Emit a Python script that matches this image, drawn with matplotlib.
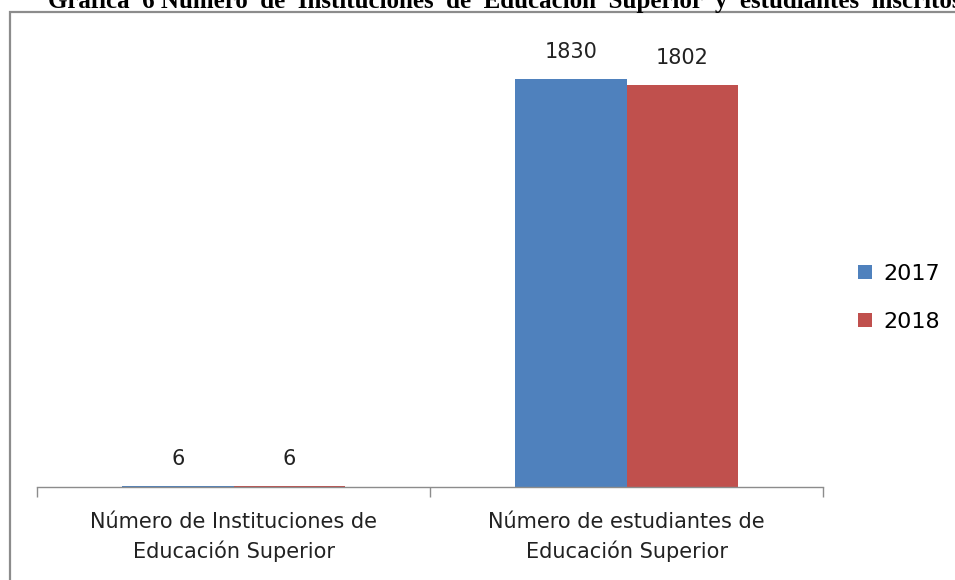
"""Bar chart: número de instituciones y estudiantes de educación superior, 2017 vs 2018."""
import matplotlib
matplotlib.use("Agg")
import matplotlib.pyplot as plt
from matplotlib.patches import Rectangle
import numpy as np

categories = ["Número de Instituciones de\nEducación Superior",
              "Número de estudiantes de\nEducación Superior"]
years = ["2017", "2018"]
values_2017 = [6, 1830]
values_2018 = [6, 1802]

colors = {"2017": "#4F81BD", "2018": "#C0504D"}
font = ["DejaVu Sans"]

fig = plt.figure(figsize=(9.55, 5.8), dpi=100)
W, H = 955, 580

# chart border (cut off at right and bottom like the source)
fig.patches.append(Rectangle((10 / W, -0.2), 1.2, (H - 12) / H + 0.2,
                             transform=fig.transFigure, fill=False,
                             edgecolor="#8c8c8c", linewidth=1.6))

# title, clipped at top edge as in the source
fig.text(48 / W, 1 - 8 / H, "Gráfica  6 Número  de  Instituciones  de  Educación  Superior  y  estudiantes  inscritos",
         fontsize=18, fontweight="bold", family="Liberation Serif",
         ha="left", va="baseline")

ax = fig.add_axes([37 / W, (H - 487) / H, (823 - 37) / W, (487 - 41) / H])
x = np.arange(len(categories))
bw = 0.283
b1 = ax.bar(x - bw / 2, values_2017, bw, color=colors["2017"], label="2017")
b2 = ax.bar(x + bw / 2, values_2018, bw, color=colors["2018"], label="2018")

for bars in (b1, b2):
    for r in bars:
        ax.annotate(f"{int(r.get_height())}", (r.get_x() + r.get_width() / 2, r.get_height()),
                    xytext=(0, 12), textcoords="offset points", ha="center", va="bottom",
                    fontsize=15, family=font, color="#222222")

ax.set_xlim(-0.5, 1.5)
ax.set_ylim(0, 2000)
ax.set_yticks([])
for s in ("left", "right", "top"):
    ax.spines[s].set_visible(False)
ax.spines["bottom"].set_color("#8c8c8c")
ax.spines["bottom"].set_linewidth(1.0)

ax.set_xticks(x)
ax.set_xticklabels(categories, fontsize=15, family=font, color="#222222", linespacing=1.5)
ax.tick_params(axis="x", which="major", length=0, pad=18)
ax.set_xticks([-0.5, 0.5, 1.5], minor=True)
ax.tick_params(axis="x", which="minor", length=7, color="#8c8c8c", width=1.0)

fig.legend(handles=[b1, b2], labels=years, loc="center left",
           bbox_to_anchor=(838 / W, 1 - 298 / H), frameon=False,
           prop={"family": font, "size": 16}, handlelength=0.62, handleheight=0.62,
           handletextpad=0.5, labelspacing=1.25)

fig.savefig("out.png", dpi=100)
